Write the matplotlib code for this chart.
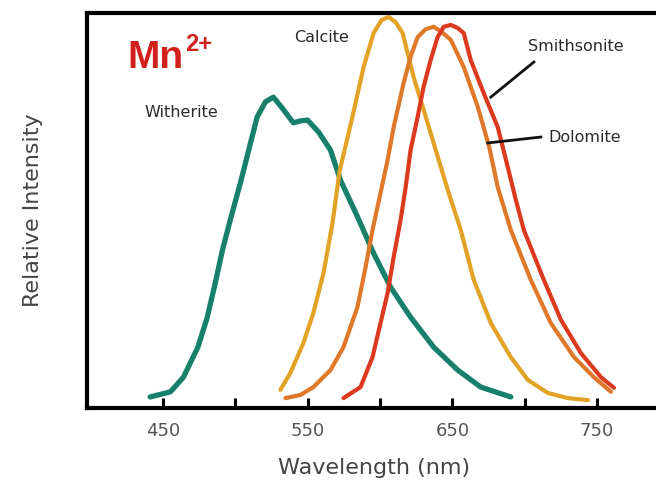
import matplotlib
matplotlib.use("Agg")
import matplotlib.pyplot as plt

# emission spectra of Mn2+ in carbonates (wavelength nm, relative intensity)
witherite_nm = [441, 455, 464, 474, 480.5, 486, 491, 496.4, 503.4, 515, 520.7, 526.2, 532.4,
                540, 545, 549.8, 557.4, 565.7, 572.6, 584.4, 595.5, 607.3, 621.1, 637.1,
                653.7, 669.6, 690.4]
witherite_i = [0.028, 0.041, 0.078, 0.154, 0.230, 0.316, 0.400, 0.476, 0.570, 0.737, 0.775,
               0.787, 0.759, 0.722, 0.727, 0.729, 0.699, 0.653, 0.577, 0.484, 0.392, 0.306,
               0.230, 0.154, 0.096, 0.053, 0.028]

calcite_nm = [531.1, 538, 547, 553.9, 560.9, 567.1, 572, 580.9, 588.6, 595.5, 601, 605.9,
              610.7, 615.6, 623.2, 635, 646.8, 655.8, 664.8, 676.6, 690.4, 702.2, 716.1,
              729.9, 743.8]
calcite_i = [0.046, 0.089, 0.165, 0.241, 0.342, 0.468, 0.600, 0.737, 0.863, 0.949, 0.982,
             0.990, 0.977, 0.949, 0.838, 0.696, 0.552, 0.451, 0.324, 0.215, 0.129, 0.071,
             0.038, 0.025, 0.020]

dolomite_nm = [534.5, 544.9, 553.9, 565.7, 574.7, 584.4, 590, 594.8, 600.3, 605.2, 609.4,
               616.3, 621.1, 626, 631.5, 637.1, 642.6, 648.9, 657.9, 667.6, 675.5, 681.4,
               690.4, 704.3, 718.1, 734.1, 747.9, 759.7]
dolomite_i = [0.025, 0.033, 0.053, 0.096, 0.154, 0.256, 0.357, 0.451, 0.544, 0.628, 0.711,
              0.823, 0.889, 0.939, 0.959, 0.965, 0.952, 0.932, 0.863, 0.762, 0.661, 0.559,
              0.451, 0.324, 0.215, 0.129, 0.078, 0.041]

smithsonite_nm = [574.7, 586.5, 594.8, 600.3, 605.2, 609.4, 614.2, 617.7, 621.1, 626, 630.1,
                  635, 639.8, 644, 648.9, 653.7, 657.9, 662.7, 671.7, 681.4, 688.3, 693.9,
                  699.4, 713.3, 725.1, 738.9, 752.8, 761.8]
smithsonite_i = [0.025, 0.053, 0.129, 0.215, 0.291, 0.382, 0.476, 0.559, 0.653, 0.737, 0.813,
                 0.881, 0.939, 0.965, 0.970, 0.962, 0.949, 0.881, 0.797, 0.711, 0.610, 0.527,
                 0.451, 0.324, 0.223, 0.139, 0.078, 0.051]

major_ticks = [450, 550, 650, 750]
minor_ticks = [500, 600, 700]

colors = {"Witherite": "#17806a", "Calcite": "#e2a226", "Dolomite": "#e0782a",
          "Smithsonite": "#dc3a1e"}

fig = plt.figure(figsize=(6.56, 4.87), dpi=100)
ax = fig.add_axes([87 / 656, 79 / 487, 575 / 656, 395 / 487])

ax.plot(witherite_nm, witherite_i, color=colors["Witherite"], lw=3.8, solid_capstyle="round")
ax.plot(calcite_nm, calcite_i, color=colors["Calcite"], lw=3.0, solid_capstyle="round")
ax.plot(dolomite_nm, dolomite_i, color=colors["Dolomite"], lw=3.0, solid_capstyle="round")
ax.plot(smithsonite_nm, smithsonite_i, color=colors["Smithsonite"], lw=3.0, solid_capstyle="round")

ax.set_xlim(397.3, 795)
ax.set_ylim(0, 1)

for s in ["left", "top", "bottom"]:
    ax.spines[s].set_linewidth(3)
ax.spines["right"].set_visible(False)

ax.set_xticks(major_ticks)
ax.set_xticks(minor_ticks, minor=True)
ax.set_yticks([])
ax.tick_params(axis="x", which="both", direction="in", length=7, width=2.2,
               labelsize=13, labelcolor="#555555", pad=10)

ax.set_xlabel("Wavelength (nm)", fontsize=16, color="#444444", labelpad=13)
ax.set_ylabel("Relative Intensity", fontsize=16, color="#444444", labelpad=32)

# curve labels
lab = dict(fontsize=11.5, color="#2a2a2a", ha="center", va="center")
ax.text(462.5, 0.747, "Witherite", **lab)
ax.text(559.5, 0.939, "Calcite", **lab)
ax.text(735.5, 0.914, "Smithsonite", **lab)
ax.text(741.7, 0.686, "Dolomite", **lab)
ax.plot([676.6, 706.4], [0.787, 0.876], color="#111111", lw=2)
ax.plot([674.5, 711.2], [0.671, 0.686], color="#111111", lw=2)

ax.text(425, 0.861, "Mn", fontsize=28, fontweight="bold", color="#d0211c",
        family="Liberation Sans", ha="left", va="baseline")
ax.text(465.5, 0.903, "2+", fontsize=17, fontweight="bold", color="#d0211c",
        family="Liberation Sans", ha="left", va="baseline")

fig.savefig("out.png", dpi=100)
